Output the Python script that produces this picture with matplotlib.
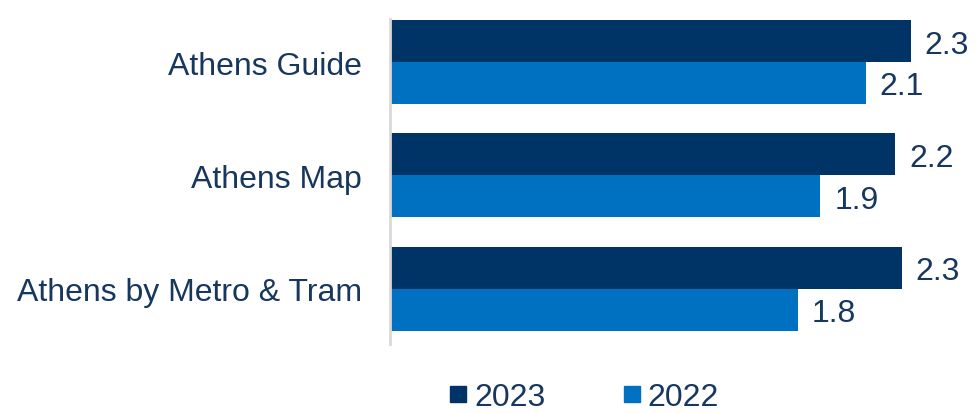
import numpy as np
import matplotlib.pyplot as plt
from matplotlib.lines import Line2D

apps = ['Athens Guide', 'Athens Map', 'Athens by Metro & Tram']
v2023 = [2.30, 2.23, 2.26]
v2022 = [2.10, 1.90, 1.80]

dark = '#003366'
light = '#0070C0'
txt = '#17375E'

plt.rcParams['font.family'] = ['Liberation Sans', 'DejaVu Sans']

fig = plt.figure(figsize=(9.76, 4.14), dpi=100)
ax = fig.add_axes([0.3996, 0.1667, 0.594, 0.785])

y = np.arange(len(apps))
h = 0.37
b1 = ax.barh(y - h / 2, v2023, height=h, color=dark, label='2023')
b2 = ax.barh(y + h / 2, v2022, height=h, color=light, label='2022')

for bars in (b1, b2):
    labs = ax.bar_label(bars, labels=['%.1f' % b.get_width() for b in bars],
                        padding=10, fontsize=23, color=txt)
    for l in labs:
        l.set_va('center_baseline')

ax.set_yticks(y)
ax.set_yticklabels(apps, fontsize=23, color=txt)
ax.tick_params(axis='y', length=0, pad=20)
ax.set_xticks([])
ax.set_xlim(0, 2.56)
ax.set_ylim(2.485, -0.379)

for s in ['top', 'right', 'bottom']:
    ax.spines[s].set_visible(False)
ax.spines['left'].set_color('#D9D9D9')
ax.spines['left'].set_linewidth(2)

handles = [Line2D([], [], marker='s', linestyle='none', markersize=12, color=dark),
           Line2D([], [], marker='s', linestyle='none', markersize=12, color=light)]
leg = fig.legend(handles, ['2023', '2022'], loc='center', bbox_to_anchor=(0.599, 0.038),
                 ncol=2, frameon=False, fontsize=23, handlelength=0.5,
                 handletextpad=0.25, columnspacing=2.45)
for t in leg.get_texts():
    t.set_color(txt)

fig.savefig('out.png', dpi=100)
